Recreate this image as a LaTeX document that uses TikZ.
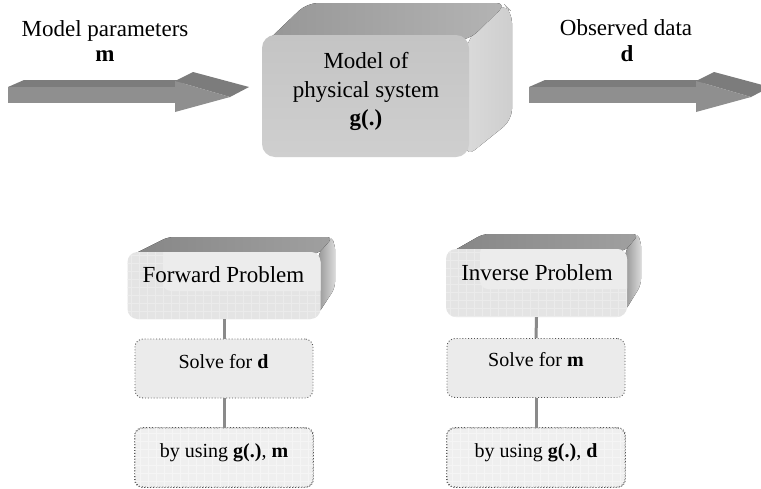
\documentclass[tikz,border=0pt]{standalone}
\usepackage{fontspec}
\setmainfont{Liberation Serif}
\definecolor{arrtopc}{HTML}{7C7C7C}
\definecolor{arrfrontc}{HTML}{8F8F8F}
\definecolor{linkgray}{HTML}{8A8A8A}
\definecolor{dotgray}{HTML}{555555}
\definecolor{solvefill}{HTML}{EBEBEB}
\definecolor{usingfill}{HTML}{EFEFEF}
\definecolor{facefill}{HTML}{E4E4E4}
\definecolor{facehi}{HTML}{ECECEC}
\definecolor{gridc}{HTML}{EBEBEB}
\definecolor{gridu}{HTML}{F5F5F5}
\definecolor{bigsideL}{HTML}{DADADA}
\definecolor{bigsideR}{HTML}{CECECE}
\definecolor{bigtopL}{HTML}{969696}
\definecolor{bigtopR}{HTML}{B4B4B4}
\definecolor{bigfrontT}{HTML}{C4C4C4}
\definecolor{bigfrontB}{HTML}{CFCFCF}
\definecolor{smsideL}{HTML}{969696}
\definecolor{smsideR}{HTML}{DADADA}
\definecolor{smtopL}{HTML}{868686}
\definecolor{smtopR}{HTML}{A0A0A0}
\begin{document}
\begin{tikzpicture}[x=1pt,y=-1pt,
  bigfont/.style={font=\fontsize{23}{29}\selectfont},
  smallfont/.style={font=\fontsize{20}{24}\selectfont},
  link/.style={draw=linkgray,line width=3pt},
  stepbox/.style={draw=dotgray,dotted,line width=0.9pt,rounded corners=8pt,
    minimum width=178pt,minimum height=59pt,inner sep=0pt},
  solvebox/.style={stepbox,fill=solvefill},
  usingbox/.style={stepbox,fill=usingfill},
  probface/.style={rounded corners=10pt,fill=facefill,minimum height=67pt,inner sep=0pt},
  txt/.style={anchor=base,inner sep=0pt},
  fatarrow/.pic={
    \fill[arrtopc] (8,87) -- (24,80) -- (192,80) -- (175,87) -- cycle;
    \fill[arrfrontc] (8,87) rectangle (175,103);
    \fill[arrtopc] (175,81) -- (193,72) -- (249,87) -- (230,97) -- cycle;
    \fill[arrfrontc] (175,81) -- (175,112) -- (230,97) -- cycle;
  }]
\useasboundingbox (0,0) rectangle (761,488);
\clip (0,0) rectangle (761,488);
\fill[white] (0,0) rectangle (761,488);

% arrows
\pic at (0,0) {fatarrow};
\pic at (521,0) {fatarrow};

% top labels
\node[bigfont,txt] (mp) at (105,36) {Model parameters};
\node[bigfont,txt] (mm) at (105,61) {\textbf{m}};
\node[bigfont,txt] (od) at (626,35) {Observed data};
\node[bigfont,txt] (dd) at (627,61) {\textbf{d}};

% central box
\fill[left color=bigsideL, right color=bigsideR, rounded corners=11pt]
  (466,42) -- (503,3) -- (512,12) -- (512,120) -- (466,157) -- cycle;
\fill[left color=bigtopL, right color=bigtopR, rounded corners=11pt]
  (262,46) -- (307,3) -- (507,3) -- (469,40) -- cycle;
\node[rounded corners=13pt,top color=bigfrontT,bottom color=bigfrontB,
  minimum width=207pt,minimum height=122pt,inner sep=0pt] (model) at (365.5,96) {};
\node[bigfont,txt] (m1) at (366,68) {Model of};
\node[bigfont,txt] (m2) at (366,97) {physical system};
\node[bigfont,txt] (m3) at (366,125) {\textbf{g(.)}};

% forward problem box
\fill[left color=smsideL, right color=smsideR, rounded corners=6pt]
  (318,255) -- (330,237) -- (335,243) -- (335,288) -- (318,314) -- cycle;
\fill[left color=smtopL, right color=smtopR, rounded corners=6pt]
  (128,257) -- (168,237) -- (333,237) -- (318,254) -- cycle;
\node[probface,minimum width=193pt] (fwd) at (224,285.5) {};
\begin{scope}
  \clip[rounded corners=10pt] (127.5,252) rectangle (320.5,319);
  \foreach \gx in {131,139,...,320} \draw[gridc,line width=0.5pt] (\gx,252) -- (\gx,319);
  \foreach \gy in {255,263,...,319} \draw[gridc,line width=0.5pt] (127,\gy) -- (321,\gy);
  \fill[facehi,rounded corners=8pt] (163,248) rectangle (326,291);
\end{scope}
\node[bigfont,txt] (fwdtxt) at (223.5,282) {Forward Problem};

% inverse problem box
\fill[left color=smsideL, right color=smsideR, rounded corners=6pt]
  (625,252) -- (636,234) -- (641,240) -- (641,285) -- (625,311) -- cycle;
\fill[left color=smtopL, right color=smtopR, rounded corners=6pt]
  (448,254) -- (483,234) -- (639,234) -- (625,251) -- cycle;
\node[probface,minimum width=181pt,minimum height=68pt] (inv) at (536.5,283) {};
\begin{scope}
  \clip[rounded corners=10pt] (446,249) rectangle (627,317);
  \foreach \gx in {450,458,...,627} \draw[gridc,line width=0.5pt] (\gx,249) -- (\gx,317);
  \foreach \gy in {252,260,...,317} \draw[gridc,line width=0.5pt] (446,\gy) -- (627,\gy);
  \fill[facehi,rounded corners=8pt] (480,245) rectangle (633,289);
\end{scope}
\node[bigfont,txt] (invtxt) at (537,280) {Inverse Problem};

% step boxes
\node[solvebox] (fsolve) at (224,368.5) {};
\node[usingbox] (fusing) at (224,457.5) {};
\node[solvebox] (isolve) at (536,368) {};
\node[usingbox] (iusing) at (536,457.5) {};
\begin{scope}
  \clip[rounded corners=8pt] (135,428) rectangle (313,487);
  \foreach \gx in {140,148,...,313} \draw[gridu,line width=0.5pt] (\gx,428) -- (\gx,487);
  \foreach \gy in {433,441,...,487} \draw[gridu,line width=0.5pt] (135,\gy) -- (313,\gy);
\end{scope}
\begin{scope}
  \clip[rounded corners=8pt] (447,428) rectangle (625,487);
  \foreach \gx in {452,460,...,625} \draw[gridu,line width=0.5pt] (\gx,428) -- (\gx,487);
  \foreach \gy in {433,441,...,487} \draw[gridu,line width=0.5pt] (447,\gy) -- (625,\gy);
\end{scope}
\draw[draw=dotgray,dotted,line width=0.9pt,rounded corners=8pt] (fusing.north west) rectangle (fusing.south east);
\draw[draw=dotgray,dotted,line width=0.9pt,rounded corners=8pt] (iusing.north west) rectangle (iusing.south east);

\node[smallfont,txt] (fstxt) at (223.5,368) {Solve for \textbf{d}};
\node[smallfont,txt] (futxt) at (224,457) {by using \textbf{g(.)}, \textbf{m}};
\node[smallfont,txt] (istxt) at (536,366) {Solve for \textbf{m}};
\node[smallfont,txt] (iutxt) at (536,457) {by using \textbf{g(.)}, \textbf{d}};

% connectors
\draw[link] (fwd.south) -- (fsolve.north);
\draw[link] (fsolve.south) -- (fusing.north);
\draw[link] (inv.south) -- (isolve.north);
\draw[link] (isolve.south) -- (iusing.north);
\end{tikzpicture}
\end{document}
